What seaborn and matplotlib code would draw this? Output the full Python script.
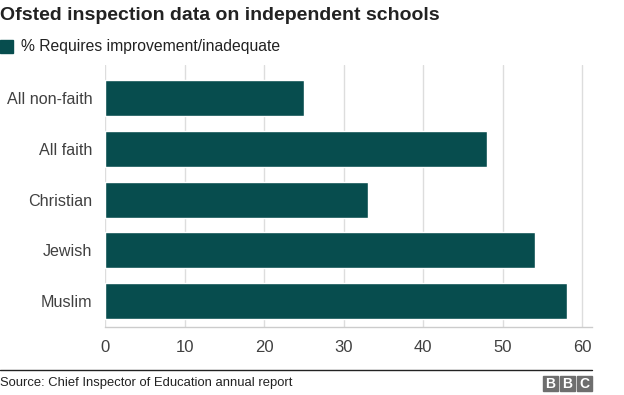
import pandas as pd
import matplotlib
matplotlib.use("Agg")
import matplotlib.pyplot as plt
import seaborn as sns
from matplotlib.patches import Rectangle
from matplotlib.lines import Line2D

# data
groups = ["All non-faith", "All faith", "Christian", "Jewish", "Muslim"]
pct_requires_improvement = [25, 48, 33, 54, 58]
x_ticks = [0, 10, 20, 30, 40, 50, 60]

title = "Ofsted inspection data on independent schools"
legend_label = "% Requires improvement/inadequate"
source = "Source: Chief Inspector of Education annual report"

bar_color = "#074d4e"
text_grey = "#404040"

sns.set_theme(style="white")
plt.rcParams["font.family"] = ["Liberation Sans", "DejaVu Sans"]

df = pd.DataFrame({"group": groups, "pct": pct_requires_improvement})

W, H = 624, 395
fig = plt.figure(figsize=(W / 100, H / 100), dpi=100)
ax = fig.add_axes([105 / W, 1 - 327 / H, (592 - 105) / W, 262 / H])

sns.barplot(data=df, x="pct", y="group", color=bar_color, width=0.71,
            saturation=1, ax=ax, zorder=3)

ax.set_xlim(0, 61.2)
ax.set_ylim(4.51, -0.65)
ax.set_xticks(x_ticks)
ax.set_xlabel("")
ax.set_ylabel("")
ax.grid(axis="x", color="#dddddd", linewidth=1, zorder=0)
for side in ["top", "right", "left"]:
    ax.spines[side].set_visible(False)
ax.spines["bottom"].set_color("#cccccc")
ax.spines["bottom"].set_linewidth(1)
ax.tick_params(axis="x", length=6, width=1, color="#dddddd",
               labelsize=12, labelcolor=text_grey, pad=3)
ax.tick_params(axis="y", length=0, labelsize=11.6, labelcolor=text_grey, pad=9)

# title and legend
fig.text(0 / W, 1 - 16 / H, title, fontsize=14, fontweight="bold",
         color="#222222", va="center", ha="left")
fig.patches.append(Rectangle((0, 1 - 53 / H), 13 / W, 13 / H,
                             transform=fig.transFigure, color=bar_color))
fig.text(21 / W, 1 - 46.5 / H, legend_label, fontsize=11.3,
         color="#222222", va="center", ha="left")

# footer
fig.lines.append(Line2D([0, 592 / W], [1 - 370 / H] * 2,
                        transform=fig.transFigure, color="#222222", linewidth=1))
fig.text(0, 1 - 383 / H, source, fontsize=9.4, color="#222222",
         va="center", ha="left")
for i, letter in enumerate("BBC"):
    x0 = 543 + i * 17
    fig.patches.append(Rectangle((x0 / W, 1 - 391 / H), 15 / W, 15 / H,
                                 transform=fig.transFigure, color="#6e6e6e"))
    fig.text((x0 + 7.5) / W, 1 - 383.5 / H, letter, fontsize=10,
             fontweight="bold", color="white", ha="center", va="center")

fig.savefig("out.png", dpi=100)
